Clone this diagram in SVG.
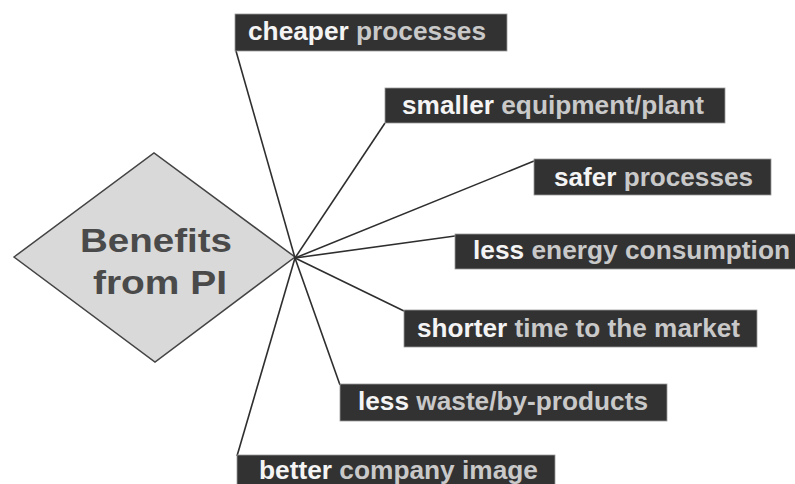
<svg xmlns="http://www.w3.org/2000/svg" width="795" height="484" viewBox="0 0 795 484">
  <style>
    .box { fill: #323232; stroke: #9a9a9a; stroke-width: 0.8; }
    .lbl { font-family: "Liberation Sans", Arial, sans-serif; font-weight: bold; font-size: 25px; fill: #c9c9c9; }
    .key { fill: #f4f4f4; }
    .link { stroke: #2e2e2e; stroke-width: 1.6; fill: none; }
    .hub { font-family: "Liberation Sans", Arial, sans-serif; font-weight: bold; font-size: 34px; fill: #4a4a4a; }
  </style>
  <rect width="795" height="484" fill="#ffffff"/>

  <g id="center">
    <polygon points="14,257 154,153 295,257 155,362" fill="#d9d9d9" stroke="#444" stroke-width="1.5"/>
    <text class="hub" x="80" y="252" textLength="152" lengthAdjust="spacingAndGlyphs">Benefits</text>
    <text class="hub" x="93" y="294" textLength="134" lengthAdjust="spacingAndGlyphs">from PI</text>
  </g>

  <g id="connectors">
    <line class="link" x1="295" y1="258" x2="236" y2="51"/>
    <line class="link" x1="295" y1="258" x2="385" y2="123"/>
    <line class="link" x1="295" y1="258" x2="534" y2="161"/>
    <line class="link" x1="295" y1="258" x2="455" y2="236"/>
    <line class="link" x1="295" y1="258" x2="404" y2="311"/>
    <line class="link" x1="295" y1="258" x2="340" y2="385"/>
    <line class="link" x1="295" y1="258" x2="237" y2="456"/>
  </g>

  <g id="cheaper">
    <rect class="box" x="235" y="14" width="272" height="37"/>
    <text class="lbl" x="248" y="40" textLength="238" lengthAdjust="spacingAndGlyphs"><tspan class="key">cheaper</tspan> processes</text>
  </g>

  <g id="smaller">
    <rect class="box" x="385" y="88" width="340" height="35"/>
    <text class="lbl" x="402" y="114" textLength="302" lengthAdjust="spacingAndGlyphs"><tspan class="key">smaller</tspan> equipment/plant</text>
  </g>

  <g id="safer">
    <rect class="box" x="534" y="159" width="237" height="36"/>
    <text class="lbl" x="554" y="186" textLength="199" lengthAdjust="spacingAndGlyphs"><tspan class="key">safer</tspan> processes</text>
  </g>

  <g id="energy">
    <rect class="box" x="455" y="234" width="345" height="35"/>
    <text class="lbl" x="473" y="259" textLength="317" lengthAdjust="spacingAndGlyphs"><tspan class="key">less</tspan> energy consumption</text>
  </g>

  <g id="shorter">
    <rect class="box" x="404" y="310" width="353" height="37"/>
    <text class="lbl" x="417" y="337" textLength="323" lengthAdjust="spacingAndGlyphs"><tspan class="key">shorter</tspan> time to the market</text>
  </g>

  <g id="waste">
    <rect class="box" x="340" y="384" width="327" height="37"/>
    <text class="lbl" x="358" y="410" textLength="290" lengthAdjust="spacingAndGlyphs"><tspan class="key">less</tspan> waste/by-products</text>
  </g>

  <g id="image">
    <rect class="box" x="237" y="455" width="318" height="36"/>
    <text class="lbl" x="259" y="479" textLength="279" lengthAdjust="spacingAndGlyphs"><tspan class="key">better</tspan> company image</text>
  </g>
</svg>
